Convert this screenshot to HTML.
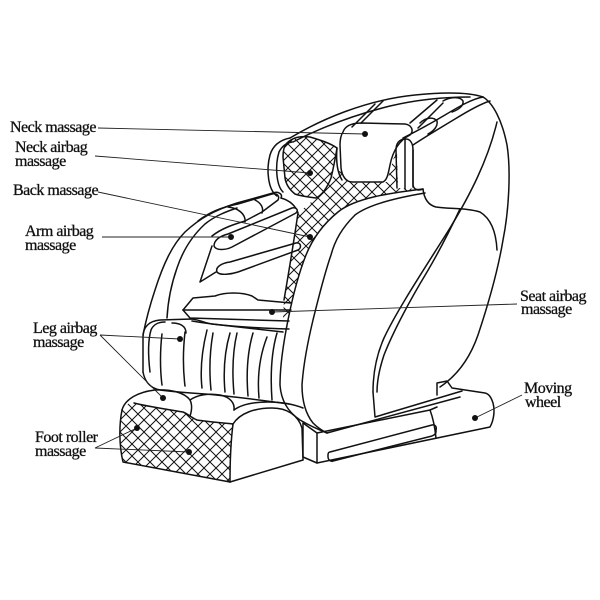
<!DOCTYPE html>
<html><head><meta charset="utf-8"><style>
html,body{margin:0;padding:0;background:#fff;}
svg{display:block}
text{font-family:"Liberation Serif",serif;font-size:16px;letter-spacing:-0.5px;fill:#111;stroke:#111;stroke-width:0.3}
</style></head><body>
<svg width="600" height="600" viewBox="0 0 600 600" xmlns="http://www.w3.org/2000/svg">
<defs>
<pattern id="hx" patternUnits="userSpaceOnUse" width="12" height="12">
<path d="M0,0 L12,12 M12,0 L0,12" stroke="#111" stroke-width="1" fill="none"/>
</pattern>
<clipPath id="cNeck"><path d="M287,143 C293,137 302,136 310,137 C320,140 330,143 337,148 C335,160 333,170 331,178 C327,188 322,195 316,198 C308,197 300,196 295,194 C290,190 286,185 285,178 L283,157 C283,151 284,146 287,143 Z"/></clipPath>
<clipPath id="cCenter"><path d="M316,198 L331,178 L341,170 L343,180 L352,183 L387,182 L393,160 L397,150 L398,188 L423,189 C390,193 355,198 338,212 C322,225 312,240 306,255 C298,275 292,300 288,320 L283,318 L284,300 C290,265 294,240 298,213 Z"/></clipPath>
<clipPath id="cFoot"><path d="M122,410 C126,404 130,402 134,403 C145,406 165,409 183,412 C188,414 192,418 197,420 C210,422 225,423 233,424 C231,440 230,460 230,482 L123,462 C119,445 119,425 122,410 Z"/></clipPath>
</defs>

<rect width="600" height="600" fill="#fff"/>

<rect x="270" y="130" width="80" height="80" fill="url(#hx)" clip-path="url(#cNeck)"/>
<rect x="270" y="140" width="160" height="190" fill="url(#hx)" clip-path="url(#cCenter)"/>
<rect x="110" y="395" width="130" height="95" fill="url(#hx)" clip-path="url(#cFoot)"/>

<g stroke="#111" fill="none" stroke-width="1.5" stroke-linecap="round" stroke-linejoin="round">
<!-- head / top shell -->
<path d="M277,196 C268,190 266,170 270,155 C273,145 280,140 290,138"/>
<path d="M283,192 C276,185 275,165 279,152 C282,146 286,143 292,142"/>
<path d="M290,138 C320,120 365,100 415,95 C445,92 468,92 483,97"/>
<path d="M293,142 C320,128 350,116 390,106 C420,99 445,97 470,97"/>
<path d="M287,143 C293,137 302,136 310,137 C320,140 330,143 337,148 C335,160 333,170 331,178 C327,188 322,195 316,198 C308,197 300,196 295,194 C290,190 286,185 285,178 L283,157 C283,151 284,146 287,143 Z"/>
<path d="M343,132 C345,126 352,123 362,123 L405,124 C412,125 414,131 410,135 C400,140 393,150 390,165 C388,175 387,180 383,182 L352,182 C346,182 342,176 341,168 L340,145 C340,139 341,135 343,132 Z" fill="#fff"/>
<path d="M337,148 C336,160 337,172 342,180"/>
<path d="M352,127 L375,104"/>
<path d="M361,123 L383,101"/>
<path d="M410,123 L437,100"/>
<path d="M418,128 L443,103"/>
<path d="M420,123 C425,118 433,116 437,121 C438,126 434,131 428,134"/>
<path d="M443,101 C450,97 460,96 463,101 C464,106 458,110 452,112"/>
<path d="M397,188 L396,150 C396,143 399,140 404,139 L406,139 C410,139 413,143 413,150 L413,187"/>
<path d="M405,139 L405,189"/>
<path d="M403,138 C415,132 430,124 445,115 C460,106 472,99 483,97"/>
<path d="M413,145 C425,137 440,128 455,119 C468,111 480,104 490,101"/>
<path d="M413,150 L413,185 C414,190 418,191 423,189 C424,198 428,205 436,207 C450,209 468,208 480,212 C490,218 496,230 497,250"/>
<!-- right panel -->
<path d="M483,97 C493,103 502,120 507,145 C511,170 509,210 503,240 C498,270 488,305 478,335 C470,358 458,375 440,387"/>
<path d="M497,122 C488,160 470,195 450,228 C425,268 397,310 384,338 C376,356 373,375 373,392"/>
<path d="M460,209 C450,230 440,250 427,272 C410,300 393,332 384,355 C379,370 377,382 377,392"/>
<!-- seat back shell -->
<path d="M423,189 C390,193 355,198 338,212 C322,225 312,240 306,255 C298,275 292,300 288,320 C283,345 280,370 280,385 C281,400 288,412 300,420 C312,427 322,431 327,433"/>
<path d="M425,193 C395,198 368,205 355,215 C342,228 335,240 331,255 C324,275 318,300 313,320 C307,345 303,370 302,385 C302,400 305,413 313,423 C318,428 323,431 327,433"/>
<path d="M327,433 L460,397"/>
<path d="M373,392 L375,417 L462,391"/>
<!-- base -->
<path d="M303,423 L303,457 L317,463 L490,427 C494,420 495,410 493,403 C491,397 489,394 485,393 L452,388 L447,381 L437,383 L437,395"/>
<path d="M303,423 L317,433 L317,463"/>
<path d="M317,433 L430,410 L437,407"/>
<path d="M430,410 C433,418 435,428 436,438"/>
<path d="M330,452 L432,425 C435,424 437,427 436,430 L436,432 C436,434 434,435 432,436 L333,461 C330,462 328,459 328,457 L328,455 C328,453 329,452 330,452 Z"/>
<path d="M230,482 L303,460"/>
<!-- left frame -->
<path d="M143,335 C146,320 150,305 155,290 C163,265 172,245 185,232 C200,218 215,210 237,203 L273,193 C278,191 283,194 281,198"/>
<path d="M167,318 C168,300 171,285 177,268 C183,250 192,236 205,224 C215,216 225,212 237,208"/>
<path d="M281,198 C288,200 295,204 298,213"/>
<!-- arm tube -->
<path d="M198,221 C208,213 222,207 238,204 L272,194 C277,193 280,196 278,200 L262,212 L245,221 C235,224 222,228 212,236"/>
<path d="M228,207 C238,208 246,214 245,222"/>
<path d="M255,200 C261,203 264,208 262,213"/>
<!-- arm pads -->
<path d="M214,246 C214,240 220,236 228,234 L292,208 C296,207 299,210 296,213 L232,247 C226,250 216,251 214,246 Z" fill="#fff"/>
<path d="M217,272 C215,267 222,263 230,262 L296,243 C301,242 302,248 298,250 L238,272 C232,274 220,276 217,272 Z" fill="#fff"/>
<path d="M212,246 L200,282 L216,272"/>
<path d="M298,213 C294,240 290,265 284,300"/>
<!-- seat pad -->
<path d="M183,310 L193,298 L215,296 C225,292 242,292 252,296 L258,300 L291,303"/>
<path d="M183,310 L291,310"/>
<path d="M183,310 L190,318 L289,321"/>
<path d="M192,321 C220,326 255,328 289,329"/>
<!-- leg block -->
<path d="M143,372 L143,337 C143,327 149,321 160,320 L192,319 C200,320 205,323 212,324 L283,332"/>
<path d="M150,372 C148,355 148,340 151,330 C153,325 158,322 165,322"/>
<path d="M162,334 C160,350 160,370 162,385"/>
<path d="M185,332 C183,350 183,370 185,386"/>
<path d="M172,323 C180,323 186,326 186,333"/>
<path d="M207,330 C202,350 200,370 202,388"/>
<path d="M213,333 C210,350 209,370 211,390"/>
<path d="M230,333 C225,350 223,370 225,392"/>
<path d="M237,333 C233,350 232,372 234,394"/>
<path d="M253,333 C248,350 246,372 248,396"/>
<path d="M267,337 C260,355 257,375 259,398"/>
<path d="M277,333 C272,350 270,372 272,400"/>
<path d="M143,372 C145,382 150,388 160,390 C175,392 190,393 205,394 C230,396 260,400 289,404"/>
<!-- ottoman -->
<path d="M122,410 C119,425 119,445 123,462 L230,482"/>
<path d="M122,410 C125,399 138,392 155,390 C172,389 185,393 190,400 C193,406 191,413 190,416"/>
<path d="M190,400 C197,395 208,393 220,395 C230,397 235,403 234,410"/>
<path d="M134,403 C145,406 165,409 183,412 C188,414 192,418 197,420 C210,422 225,423 233,424"/>
<path d="M233,424 C231,440 230,460 230,482"/>
<path d="M233,424 C240,413 255,408 272,408 C287,408 298,415 302,428 L303,460"/>
<path d="M234,410 C242,404 255,402 268,402 C282,402 293,404 303,408"/>
</g>

<!-- leader lines -->
<g stroke="#222" stroke-width="0.9" fill="none">
<path d="M98,128 L365,134"/>
<path d="M95,156 L310,173"/>
<path d="M98,192 L310,237"/>
<path d="M102,237 L231,237"/>
<path d="M100,335 L180,339 M100,335 L163,398"/>
<path d="M95,448 L137,428 M95,448 L189,452"/>
<path d="M272,312 L517,304"/>
<path d="M522,395 L475,418"/>
</g>
<g fill="#111">
<circle cx="365" cy="134" r="3"/>
<circle cx="310" cy="173" r="3"/>
<circle cx="310" cy="237" r="3"/>
<circle cx="231" cy="237" r="3"/>
<circle cx="180" cy="339" r="3"/>
<circle cx="163" cy="398" r="3"/>
<circle cx="137" cy="428" r="3"/>
<circle cx="189" cy="452" r="3"/>
<circle cx="272" cy="312" r="3"/>
<circle cx="475" cy="418" r="3"/>
</g>

<!-- labels -->
<text x="10" y="132">Neck massage</text>
<text x="15" y="152">Neck airbag</text>
<text x="15" y="166">massage</text>
<text x="13" y="195">Back massage</text>
<text x="25" y="236">Arm airbag</text>
<text x="25" y="250">massage</text>
<text x="33" y="333">Leg airbag</text>
<text x="33" y="347">massage</text>
<text x="35" y="442">Foot roller</text>
<text x="35" y="456">massage</text>
<text x="520" y="301">Seat airbag</text>
<text x="521" y="314">massage</text>
<text x="524" y="393">Moving</text>
<text x="525" y="407">wheel</text>
</svg>
</body></html>
